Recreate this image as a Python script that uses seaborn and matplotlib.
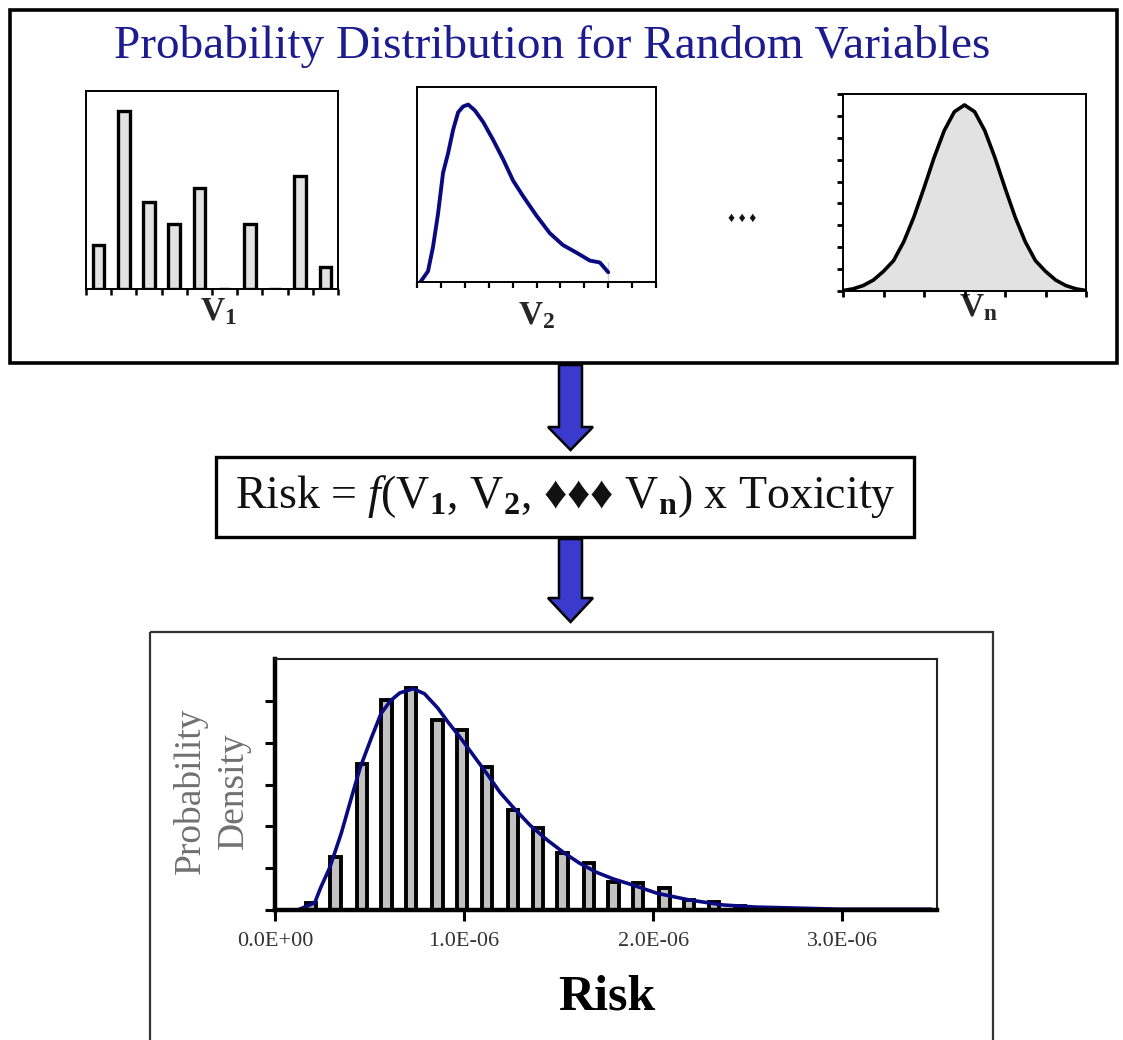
import numpy as np
import pandas as pd
import seaborn as sns
import matplotlib.pyplot as plt
from matplotlib.patches import Rectangle, Polygon

# ---- data ----
# V1: discrete distribution (10 classes, two empty)
v1_classes = ['c1', 'c2', 'c3', 'c4', 'c5', 'c6', 'c7', 'c8', 'c9', 'c10']
v1_heights = [2.2, 9.0, 4.4, 3.3, 5.1, 0.0, 3.3, 0.0, 5.7, 1.1]

# V2: right-skewed, truncated density
v2_x = [0.14, 0.46, 0.67, 0.88, 1.09, 1.30, 1.51, 1.72, 1.93, 2.14, 2.42, 2.77,
        3.18, 3.60, 4.02, 4.44, 5.00, 5.56, 6.10, 6.68, 7.23, 7.65, 8.00, 8.00]
v2_y = [0.00, 0.055, 0.18, 0.35, 0.56, 0.66, 0.78, 0.87, 0.90, 0.91, 0.88, 0.82,
        0.73, 0.63, 0.52, 0.44, 0.34, 0.25, 0.19, 0.15, 0.11, 0.10, 0.10, 0.00]

# Vn: bell-shaped density
vn_x = [0.0, 0.25, 0.5, 0.75, 1.0, 1.25, 1.5, 1.75, 2.0, 2.25, 2.5, 2.75, 3.0,
        3.25, 3.5, 3.75, 4.0, 4.25, 4.5, 4.75, 5.0, 5.25, 5.5, 5.75, 6.0]
vn_y = [0.02, 0.10, 0.25, 0.50, 0.90, 1.39, 2.25, 3.38, 4.71, 6.10, 7.33, 8.19, 8.50,
        8.19, 7.33, 6.10, 4.71, 3.38, 2.25, 1.39, 0.90, 0.50, 0.25, 0.10, 0.02]

# Risk histogram (x in units of 1E-06)
risk_bins = [0.19, 0.32, 0.46, 0.59, 0.72, 0.86, 0.99, 1.12, 1.26, 1.39, 1.52, 1.66,
             1.79, 1.92, 2.06, 2.19, 2.32, 2.46]
risk_density = [0.17, 1.26, 3.50, 5.02, 5.30, 4.55, 4.30, 3.43, 2.38, 1.95, 1.36, 1.12,
                0.67, 0.64, 0.52, 0.24, 0.19, 0.10]
# fitted curve
fit_x = [0.12, 0.21, 0.24, 0.29, 0.35, 0.40, 0.45, 0.51, 0.56, 0.61, 0.66, 0.73, 0.79,
         0.86, 0.91, 0.98, 1.05, 1.12, 1.19, 1.26, 1.35, 1.44, 1.53, 1.61, 1.70, 1.79,
         1.89, 2.02, 2.19, 2.37, 2.54, 2.72, 2.98, 3.47]
fit_y = [0.00, 0.17, 0.52, 1.02, 1.83, 2.62, 3.40, 4.12, 4.69, 5.00, 5.19, 5.29, 5.17,
         4.83, 4.52, 4.12, 3.69, 3.26, 2.81, 2.45, 2.02, 1.67, 1.36, 1.12, 0.90, 0.74,
         0.60, 0.40, 0.24, 0.12, 0.07, 0.05, 0.02, 0.02]
risk_ticks = [0.0, 1.0, 2.0, 3.0]
risk_tick_labels = ['0.0E+00', '1.0E-06', '2.0E-06', '3.0E-06']

sns.set_theme(style='white')
plt.rcParams['font.family'] = ['Liberation Serif', 'DejaVu Sans']
plt.rcParams['mathtext.fontset'] = 'custom'
plt.rcParams['mathtext.rm'] = 'Liberation Serif'
plt.rcParams['mathtext.it'] = 'Liberation Serif:italic'
plt.rcParams['mathtext.bf'] = 'Liberation Serif:bold'

W, H = 1123, 1040
fig = plt.figure(figsize=(W / 100, H / 100), dpi=100)
fig.patch.set_facecolor('white')


def rect(x0, y0, x1, y1):
    return [x0 / W, 1 - y1 / H, (x1 - x0) / W, (y1 - y0) / H]


# background layer for boxes, arrows and free text (pixel coords)
bg = fig.add_axes([0, 0, 1, 1])
bg.set_xlim(0, W)
bg.set_ylim(H, 0)
bg.axis('off')
bg.add_patch(Rectangle((10, 10), 1107, 353, fill=False, lw=2.6, ec='black'))
bg.add_patch(Rectangle((216, 457), 698, 80, fill=False, lw=2.4, ec='black'))
bg.add_patch(Rectangle((150, 632), 843, 500, fill=False, lw=1.6, ec='#333333'))


def arrow(top, base, tip):
    pts = [(559, top), (582, top), (582, base), (593, base), (570.5, tip), (548, base), (559, base)]
    bg.add_patch(Polygon(pts, closed=True, fc='#3a3acc', ec='black', lw=1.8))


arrow(365, 427, 450)
arrow(539, 598, 622)

bg.text(552, 47, 'Probability Distribution for Random Variables', color='#1c1c8e',
        fontsize=34, ha='center', va='center')
bg.text(565, 497, r'Risk = $f$(V$_\mathbf{1}$, V$_\mathbf{2}$, ♦♦♦ V$_\mathbf{n}$) x Toxicity',
        fontsize=33, ha='center', va='center', color='#111111')
bg.text(742, 218, '♦ ♦ ♦', fontsize=10, ha='center', va='center', color='#111111')
bg.text(218, 312, r'V$_\mathbf{1}$', fontsize=24, fontweight='bold', ha='center', va='center')
bg.text(537, 316, r'V$_\mathbf{2}$', fontsize=24, fontweight='bold', ha='center', va='center')
bg.text(978, 308, r'V$_\mathbf{n}$', fontsize=24, fontweight='bold', ha='center', va='center')

# ---- V1 ----
ax1 = fig.add_axes(rect(86, 91, 338, 289))
df1 = pd.DataFrame({'cls': v1_classes, 'h': v1_heights})
sns.barplot(data=df1, x='cls', y='h', order=v1_classes, color='#e2e2e2',
            edgecolor='black', linewidth=2.4, width=0.46, saturation=1, ax=ax1)
ax1.set_xlim(-0.5, 9.5)
ax1.set_ylim(0, 10)
ax1.set_xticks(np.arange(-0.5, 10, 1.0))
ax1.set_xticklabels([])
ax1.set_yticks([])
ax1.set_xlabel('')
ax1.set_ylabel('')
ax1.tick_params(axis='x', bottom=True, direction='out', length=4, width=1.8, color='black')

# ---- V2 ----
ax2 = fig.add_axes(rect(417, 87, 656, 282))
df2 = pd.DataFrame({'x': v2_x, 'y': v2_y})
sns.lineplot(data=df2, x='x', y='y', sort=False, color='#0a0a80', lw=2.8, ax=ax2)
ax2.set_xlim(0, 10)
ax2.set_ylim(0, 1)
ax2.set_xticks(range(0, 11))
ax2.set_xticklabels([])
ax2.set_yticks([])
ax2.set_xlabel('')
ax2.set_ylabel('')
ax2.tick_params(axis='x', bottom=True, direction='out', length=4, width=1.6, color='black')

# ---- Vn ----
ax3 = fig.add_axes(rect(843, 94, 1086, 291))
df3 = pd.DataFrame({'x': vn_x, 'y': vn_y})
ax3.fill_between(df3['x'], df3['y'], color='#e2e2e2')
sns.lineplot(data=df3, x='x', y='y', color='black', lw=2.6, ax=ax3)
ax3.set_xlim(0, 6)
ax3.set_ylim(0, 9)
ax3.set_xticks(range(0, 7))
ax3.set_yticks(range(0, 10))
ax3.set_xticklabels([])
ax3.set_yticklabels([])
ax3.set_xlabel('')
ax3.set_ylabel('')
ax3.tick_params(axis='both', bottom=True, left=True, direction='out', length=4, width=2,
                color='black')

for a in (ax1, ax2, ax3):
    for s in a.spines.values():
        s.set_color('black')
        s.set_linewidth(1.4)

# ---- Risk histogram ----
ax = fig.add_axes(rect(275, 659, 937, 910))
dfr = pd.DataFrame({'risk': risk_bins, 'dens': risk_density})
sns.barplot(data=dfr, x='risk', y='dens', native_scale=True, color='#c2c2c2',
            edgecolor='black', linewidth=2.8, width=0.42, saturation=1, ax=ax)
dff = pd.DataFrame({'risk': fit_x, 'dens': fit_y})
sns.lineplot(data=dff, x='risk', y='dens', color='#0a0a80', lw=2.6, ax=ax)
ax.set_xlim(0, 3.5)
ax.set_ylim(0, 6)
ax.set_xticks(risk_ticks)
ax.set_xticklabels(risk_tick_labels)
ax.set_yticks(range(0, 6))
ax.set_yticklabels([])
ax.tick_params(axis='x', bottom=True, direction='out', length=8, width=2.2, color='black',
               labelsize=16, labelcolor='#333333', pad=8)
ax.tick_params(axis='y', left=True, direction='out', length=7, width=2.2, color='black')
for side in ('left', 'bottom'):
    ax.spines[side].set_linewidth(3.2)
    ax.spines[side].set_color('black')
for side in ('top', 'right'):
    ax.spines[side].set_linewidth(1.5)
    ax.spines[side].set_color('#222222')

ax.set_xlabel('Risk', fontsize=36, fontweight='bold', color='black')
ax.xaxis.set_label_coords((607 - 275) / 662, (910 - 997) / 251)
ax.xaxis.label.set_va('center')
ax.set_ylabel('Probability\nDensity', fontsize=27, color='#707070', linespacing=1.3)
ax.yaxis.set_label_coords((212 - 275) / 662, (910 - 791) / 251)
ax.yaxis.label.set_va('center')

fig.savefig('out.png', dpi=100, facecolor='white')
